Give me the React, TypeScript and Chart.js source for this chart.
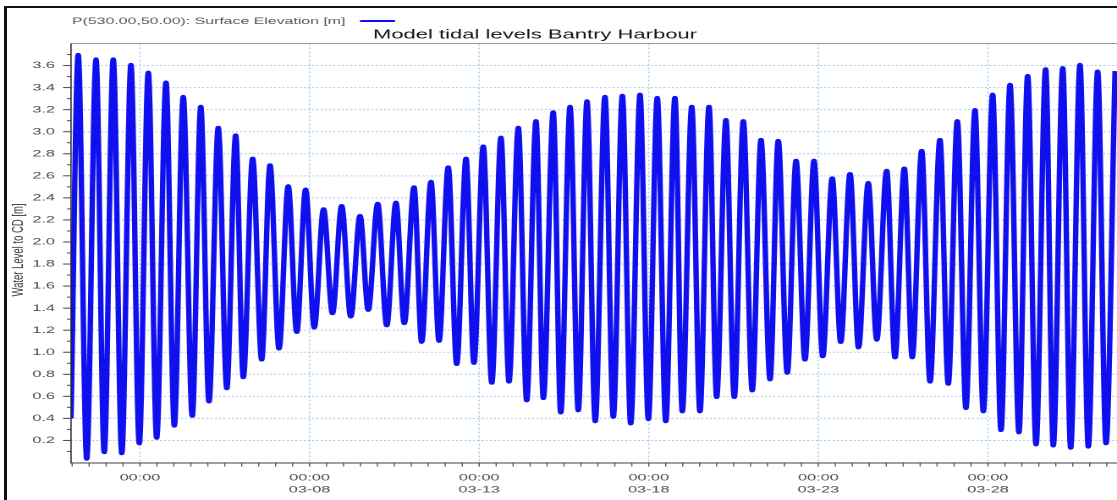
import React, { useEffect, useRef } from "react";
import { Chart, registerables } from "chart.js";

Chart.register(...registerables);

// ---- texts ----
const seriesLabel = "P(530.00,50.00): Surface Elevation [m]";
const chartTitle = "Model tidal levels Bantry Harbour";
const yAxisTitle = "Water Level to CD [m]";

// ---- data (time in hours since 03-01 00:00, level in m above CD) ----
const startTime = -0.8;
const startLevel = 0.4;

const highWaterTimes = [
  4.3, 16.9, 29.1, 41.6, 53.9, 66.4, 78.6, 91.0, 103.4, 115.7,
  127.7, 140.0, 152.9, 165.2, 177.9, 190.7, 203.7, 216.2, 229.1, 241.9,
  253.9, 266.1, 278.7, 290.9, 303.4, 315.7, 328.2, 340.4, 352.3, 364.3,
  377.0, 389.3, 401.8, 414.0, 426.5, 438.4, 450.6, 462.6, 474.9, 487.4,
  499.6, 512.2, 524.9, 537.8, 550.4, 563.3, 576.3, 588.8, 601.1, 614.0,
  626.3, 638.8, 651.3, 663.6, 676.1, 688.8, 700.9, 713.1, 725.6, 737.9,
];
const highWaterLevels = [
  3.70, 3.66, 3.66, 3.61, 3.54, 3.45, 3.32, 3.23, 3.04, 2.97,
  2.76, 2.70, 2.51, 2.48, 2.30, 2.33, 2.24, 2.35, 2.36, 2.50,
  2.55, 2.68, 2.76, 2.87, 2.95, 3.04, 3.10, 3.18, 3.23, 3.28,
  3.32, 3.33, 3.34, 3.31, 3.31, 3.23, 3.23, 3.11, 3.10, 2.93,
  2.92, 2.74, 2.74, 2.58, 2.62, 2.54, 2.65, 2.67, 2.83, 2.93,
  3.10, 3.20, 3.34, 3.43, 3.51, 3.57, 3.58, 3.61, 3.55, 3.55,
];
const lowWaterTimes = [
  10.3, 22.7, 35.1, 47.5, 59.8, 72.3, 85.0, 96.8, 109.4, 121.1,
  134.1, 146.4, 158.9, 171.3, 184.2, 197.1, 209.5, 222.6, 235.0, 247.3,
  259.6, 272.1, 284.3, 296.9, 309.1, 321.6, 333.4, 345.7, 358.1, 370.1,
  382.9, 395.2, 407.7, 420.0, 431.7, 444.2, 456.0, 468.5, 481.2, 493.8,
  506.0, 518.5, 531.1, 543.8, 556.4, 569.3, 582.2, 594.4, 607.0, 619.9,
  632.4, 644.7, 657.2, 669.9, 682.0, 694.2, 706.5, 719.0, 731.5,
];
const lowWaterLevels = [
  0.03, 0.09, 0.08, 0.17, 0.22, 0.33, 0.42, 0.55, 0.67, 0.77,
  0.93, 1.03, 1.18, 1.22, 1.35, 1.32, 1.38, 1.24, 1.26, 1.09,
  1.10, 0.89, 0.90, 0.72, 0.73, 0.56, 0.58, 0.45, 0.47, 0.37,
  0.41, 0.35, 0.39, 0.37, 0.46, 0.46, 0.59, 0.59, 0.65, 0.75,
  0.81, 0.93, 0.96, 1.09, 1.04, 1.11, 0.95, 0.95, 0.73, 0.71,
  0.49, 0.46, 0.29, 0.27, 0.16, 0.15, 0.13, 0.14, 0.17,
];

// ---- axes ----
const xMin = -0.8;
const xMax = 739.3;
const xMajorTickHours = [48, 168, 288, 408, 528, 648];
const xTickLabels = [
  ["00:00"],
  ["00:00", "03-08"],
  ["00:00", "03-13"],
  ["00:00", "03-18"],
  ["00:00", "03-23"],
  ["00:00", "03-28"],
];
const xMinorStepHours = 12;
const yMin = 0;
const yMax = 3.8;
const yLabelTicks = [
  0.2, 0.4, 0.6, 0.8, 1.0, 1.2, 1.4, 1.6, 1.8, 2.0,
  2.2, 2.4, 2.6, 2.8, 3.0, 3.2, 3.4, 3.6,
];
const yMinorStep = 0.1;

// ---- styling ----
const LOGICAL_W = 660;
const H = 500;
const K = 1117 / LOGICAL_W; // horizontal stretch of the reference picture
const sx = (screenPx: number) => screenPx / K;
const FONT = "'Liberation Sans', Arial, sans-serif";
const LINE_COLOR = "#1010ee";
const GRID_COLOR = "rgba(140,185,230,0.75)";

function buildPoints() {
  const pts: { x: number; y: number }[] = [{ x: startTime, y: startLevel }];
  highWaterTimes.forEach((t, i) => pts.push({ x: t, y: highWaterLevels[i] }));
  lowWaterTimes.forEach((t, i) => pts.push({ x: t, y: lowWaterLevels[i] }));
  pts.sort((a, b) => a.x - b.x);
  return pts;
}

const framePlugin = {
  id: "tideFrame",
  beforeDatasetsDraw(chart: any) {
    const { ctx, chartArea: a, scales } = chart;
    const x = scales.x;
    const y = scales.y;
    ctx.save();
    ctx.strokeStyle = GRID_COLOR;
    ctx.lineWidth = 1;
    ctx.setLineDash([1.2, 1.3]);
    for (const v of yLabelTicks) {
      const py = y.getPixelForValue(v);
      ctx.beginPath();
      ctx.moveTo(a.left, py);
      ctx.lineTo(a.right, py);
      ctx.stroke();
    }
    ctx.lineWidth = sx(1.2);
    ctx.setLineDash([2, 2]);
    for (const v of xMajorTickHours) {
      const p = x.getPixelForValue(v);
      ctx.beginPath();
      ctx.moveTo(p, a.top);
      ctx.lineTo(p, a.bottom + 5);
      ctx.stroke();
    }
    ctx.restore();
  },
  afterDatasetsDraw(chart: any) {
    const { ctx, chartArea: a, scales } = chart;
    const x = scales.x;
    const y = scales.y;
    ctx.save();
    ctx.setLineDash([]);
    // top frame
    ctx.strokeStyle = "#9a9a9a";
    ctx.lineWidth = 1;
    ctx.beginPath();
    ctx.moveTo(a.left, a.top);
    ctx.lineTo(a.right, a.top);
    ctx.stroke();
    // x axis line
    ctx.strokeStyle = "#808080";
    ctx.lineWidth = 1.6;
    ctx.beginPath();
    ctx.moveTo(a.left, a.bottom + 0.5);
    ctx.lineTo(a.right, a.bottom + 0.5);
    ctx.stroke();
    // y axis line
    ctx.strokeStyle = "#222";
    ctx.lineWidth = sx(1.3);
    ctx.beginPath();
    ctx.moveTo(a.left, a.top);
    ctx.lineTo(a.left, a.bottom + 1);
    ctx.stroke();
    // x tick marks
    ctx.strokeStyle = "#555";
    ctx.lineWidth = sx(1.2);
    for (let h = Math.ceil(x.min / xMinorStepHours) * xMinorStepHours; h <= x.max; h += xMinorStepHours) {
      const p = x.getPixelForValue(h);
      ctx.beginPath();
      ctx.moveTo(p, a.bottom);
      ctx.lineTo(p, a.bottom + 4);
      ctx.stroke();
    }
    // y tick marks
    ctx.strokeStyle = "#444";
    ctx.lineWidth = 1;
    const n = Math.round((y.max - y.min) / yMinorStep);
    for (let i = 1; i < n; i++) {
      const v = y.min + i * yMinorStep;
      const major = i % 2 === 0;
      const py = y.getPixelForValue(v);
      ctx.beginPath();
      ctx.moveTo(a.left - sx(major ? 8 : 4), py);
      ctx.lineTo(a.left, py);
      ctx.stroke();
    }
    ctx.restore();
  },
  afterDraw(chart: any) {
    const { ctx } = chart;
    ctx.save();
    // legend
    ctx.fillStyle = "#555";
    ctx.font = `9.4px ${FONT}`;
    ctx.textAlign = "left";
    ctx.textBaseline = "middle";
    ctx.fillText(seriesLabel, sx(72), 21.5);
    ctx.strokeStyle = LINE_COLOR;
    ctx.lineWidth = 2;
    ctx.beginPath();
    ctx.moveTo(sx(360), 21);
    ctx.lineTo(sx(395), 21);
    ctx.stroke();
    // title
    ctx.fillStyle = "#151515";
    ctx.font = `13px ${FONT}`;
    ctx.textAlign = "center";
    ctx.fillText(chartTitle, sx(535), 35);
    // y axis title
    ctx.translate(sx(18), 250);
    ctx.rotate(-Math.PI / 2);
    ctx.fillStyle = "#333";
    ctx.font = `9.5px ${FONT}`;
    ctx.fillText(yAxisTitle, 0, 0);
    ctx.restore();
  },
};

export default function App() {
  const ref = useRef<HTMLCanvasElement>(null);
  useEffect(() => {
    if (!ref.current) return;
    const chart = new Chart(ref.current, {
      type: "line",
      data: {
        datasets: [
          {
            label: seriesLabel,
            data: buildPoints(),
            borderColor: LINE_COLOR,
            backgroundColor: LINE_COLOR,
            borderWidth: 3.2,
            pointRadius: 0,
            fill: false,
            cubicInterpolationMode: "monotone",
          },
        ],
      },
      options: {
        animation: false,
        responsive: false,
        devicePixelRatio: 2,
        layout: { padding: { top: 43.5, left: 0, right: 0, bottom: 0 } },
        plugins: {
          legend: { display: false },
          title: { display: false },
          tooltip: { enabled: false },
        },
        scales: {
          x: {
            type: "linear",
            min: xMin,
            max: xMax,
            grid: { display: false, drawTicks: false },
            border: { display: false },
            afterBuildTicks: (s: any) => {
              s.ticks = xMajorTickHours.map((v) => ({ value: v }));
            },
            afterFit: (s: any) => {
              s.height = 37.5;
            },
            ticks: {
              autoSkip: false,
              maxRotation: 0,
              minRotation: 0,
              padding: 9.5,
              color: "#4a4a4a",
              font: { family: FONT, size: 9.6, lineHeight: 1.25 },
              callback: (_v: any, i: number) => xTickLabels[i],
            },
          },
          y: {
            type: "linear",
            min: yMin,
            max: yMax,
            grid: { display: false, drawTicks: false },
            border: { display: false },
            afterBuildTicks: (s: any) => {
              s.ticks = yLabelTicks.map((v) => ({ value: v }));
            },
            afterFit: (s: any) => {
              s.width = sx(71);
            },
            ticks: {
              autoSkip: false,
              padding: 9.5,
              color: "#4a4a4a",
              font: { family: FONT, size: 9.6 },
              callback: (v: any) => Number(v).toFixed(1),
            },
          },
        },
      } as any,
      plugins: [framePlugin],
    });
    return () => chart.destroy();
  }, []);

  return (
    <div
      style={{
        position: "fixed",
        left: 0,
        top: 0,
        width: 1117,
        height: H,
        overflow: "hidden",
        background: "#fff",
      }}
    >
      <div
        style={{
          position: "absolute",
          left: 0,
          top: 0,
          width: LOGICAL_W,
          height: H,
          transform: `scaleX(${K})`,
          transformOrigin: "0 0",
        }}
      >
        <canvas ref={ref} width={LOGICAL_W} height={H} style={{ display: "block" }} />
      </div>
      <div
        style={{
          position: "absolute",
          left: 4,
          top: 6,
          width: 1200,
          height: 600,
          borderLeft: "3px solid #111",
          borderTop: "2px solid #111",
          pointerEvents: "none",
        }}
      />
    </div>
  );
}
